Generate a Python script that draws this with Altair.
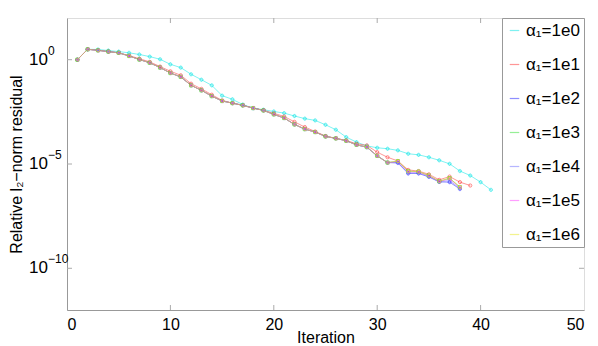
import altair as alt
import pandas as pd

series_names = ["α₁=1e0", "α₁=1e1", "α₁=1e2", "α₁=1e3", "α₁=1e4", "α₁=1e5", "α₁=1e6"]
series_colors = ["#00e5e5", "#ff3030", "#2020ff", "#30e030", "#7070ff", "#ff40ff", "#e8e820"]
series_shapes = ["cross", "circle", "cross", "square", "diamond", "triangle-left", "circle"]

res_1e0 = [1.0, 3.16, 3.09, 2.75, 2.45, 2.14, 1.78, 1.41, 1.05, 0.60,
           0.42, 0.20, 0.11, 0.059, 0.019, 0.0126, 7.1e-3, 4.8e-3, 4.0e-3, 3.3e-3,
           2.75e-3, 2.0e-3, 1.5e-3, 1.23e-3, 7.6e-4, 4.4e-4, 1.95e-4, 1.12e-4, 7.4e-5, 6.0e-5,
           5.4e-5, 4.5e-5, 3.1e-5, 2.75e-5, 2.1e-5, 1.5e-5, 1.02e-5, 4.6e-6, 2.8e-6, 1.35e-6, 5.75e-7]
res_1e1 = [1.0, 3.16, 2.82, 2.45, 2.14, 1.58, 1.12, 0.79, 0.47, 0.28,
           0.18, 0.071, 0.040, 0.021, 0.0112, 8.3e-3, 6.5e-3, 4.8e-3, 3.8e-3, 2.7e-3,
           1.9e-3, 1.05e-3, 5.9e-4, 3.6e-4, 2.2e-4, 1.7e-4, 1.35e-4, 9.3e-5, 7.8e-5, 3.7e-5,
           2.1e-5, 1.4e-5, 5.2e-6, 4.6e-6, 3.2e-6, 1.74e-6, 2.5e-6, 1.35e-6, 9.3e-7]
res_1e2 = [1.0, 3.16, 2.82, 2.45, 2.14, 1.51, 1.02, 0.71, 0.42, 0.23,
           0.15, 0.059, 0.034, 0.018, 0.0105, 8.3e-3, 6.5e-3, 4.8e-3, 3.7e-3, 2.4e-3,
           1.6e-3, 7.9e-4, 4.7e-4, 3.4e-4, 2.1e-4, 1.7e-4, 1.3e-4, 8.3e-5, 6.3e-5, 2.45e-5,
           1.17e-5, 1.12e-5, 3.5e-6, 3.5e-6, 2.4e-6, 1.38e-6, 1.35e-6, 6.3e-7]
res_1e3 = [1.0, 3.16, 2.82, 2.45, 2.14, 1.51, 1.02, 0.71, 0.42, 0.23,
           0.15, 0.059, 0.034, 0.018, 0.0105, 8.3e-3, 6.5e-3, 4.8e-3, 3.7e-3, 2.4e-3,
           1.6e-3, 7.9e-4, 4.7e-4, 3.4e-4, 2.1e-4, 1.7e-4, 1.3e-4, 8.3e-5, 6.5e-5, 2.45e-5,
           1.17e-5, 1.38e-5, 4.5e-6, 4.3e-6, 2.8e-6, 1.48e-6, 2.1e-6, 7.8e-7]
res_1e4 = [1.0, 3.16, 2.82, 2.45, 2.14, 1.51, 1.02, 0.71, 0.42, 0.23,
           0.15, 0.059, 0.034, 0.018, 0.0105, 8.3e-3, 6.5e-3, 4.8e-3, 3.7e-3, 2.4e-3,
           1.6e-3, 7.9e-4, 4.7e-4, 3.4e-4, 2.1e-4, 1.7e-4, 1.3e-4, 8.3e-5, 6.4e-5, 2.45e-5,
           1.17e-5, 1.2e-5, 3.8e-6, 3.8e-6, 2.5e-6, 1.4e-6, 1.6e-6, 6.8e-7]
res_1e5 = [1.0, 3.16, 2.82, 2.45, 2.14, 1.51, 1.02, 0.71, 0.42, 0.23,
           0.15, 0.059, 0.034, 0.018, 0.0105, 8.3e-3, 6.5e-3, 4.8e-3, 3.7e-3, 2.4e-3,
           1.6e-3, 7.9e-4, 4.7e-4, 3.4e-4, 2.1e-4, 1.7e-4, 1.3e-4, 8.3e-5, 6.5e-5, 2.45e-5,
           1.17e-5, 1.3e-5, 4.2e-6, 4.1e-6, 2.7e-6, 1.45e-6, 1.9e-6, 7.5e-7]
res_1e6 = [1.0, 3.16, 2.82, 2.45, 2.14, 1.51, 1.02, 0.71, 0.42, 0.23,
           0.15, 0.059, 0.034, 0.018, 0.0105, 8.3e-3, 6.5e-3, 4.8e-3, 3.7e-3, 2.4e-3,
           1.6e-3, 7.9e-4, 4.7e-4, 3.4e-4, 2.1e-4, 1.7e-4, 1.3e-4, 8.3e-5, 6.5e-5, 2.45e-5,
           1.17e-5, 1.38e-5, 4.5e-6, 4.3e-6, 2.8e-6, 1.48e-6, 2.1e-6, 7.8e-7]

x_ticks = [0, 10, 20, 30, 40, 50]
inner_x_ticks = [10, 20, 30, 40]
y_ticks = [1.0, 1e-5, 1e-10]
y_tick_base = ["10", "10", "10"]
y_tick_exp = ["0", "−5", "−10"]

all_series = [res_1e0, res_1e1, res_1e2, res_1e3, res_1e4, res_1e5, res_1e6]
rows = []
for name, vals in zip(series_names, all_series):
    for i, v in enumerate(vals):
        rows.append({"series": name, "iteration": i + 1, "residual": v})
df = pd.DataFrame(rows)

W, H = 517, 292
FONT = "Liberation Sans"

x_scale = alt.Scale(domain=[0, 50], nice=False)
y_scale = alt.Scale(type="log", domain=[1e-12, 1e2], nice=False)
color_scale = alt.Scale(domain=series_names, range=series_colors)

x_enc = alt.X("iteration:Q", scale=x_scale,
              axis=alt.Axis(values=x_ticks, title="Iteration", tickSize=0, labelPadding=6,
                            titlePadding=-3, labelFontSize=16, titleFontSize=16,
                            titleFontWeight="normal", labelColor="black", titleColor="black",
                            domainColor="#999999", grid=False, labelFont=FONT, titleFont=FONT))
y_enc = alt.Y("residual:Q", scale=y_scale,
              axis=alt.Axis(values=y_ticks, title="Relative l₂−norm residual", tickSize=0,
                            labels=False, titlePadding=42,
                            titleFontSize=16, titleFontWeight="normal",
                            titleColor="black", domainColor="#999999",
                            grid=False, titleFont=FONT))

lines = alt.Chart(df).mark_line(strokeWidth=1, opacity=0.5).encode(
    x=x_enc, y=y_enc,
    color=alt.Color("series:N", scale=color_scale, sort=series_names,
                    legend=alt.Legend(title=None, orient="top-right", offset=0,
                                      symbolType="stroke", symbolSize=90,
                                      symbolStrokeWidth=1.2, symbolOpacity=0.5,
                                      labelFontSize=17, labelFont=FONT, labelColor="black",
                                      labelOffset=3, rowPadding=16, padding=4,
                                      strokeColor="#999999", fillColor="white",
                                      cornerRadius=0, labelLimit=200)),
    detail="series:N",
)

point_layers = []
for name, shp in zip(series_names, series_shapes):
    point_layers.append(
        alt.Chart(df).transform_filter(alt.datum.series == name)
        .mark_point(size=10, strokeWidth=1, opacity=0.6, shape=shp)
        .encode(x="iteration:Q", y="residual:Q",
                color=alt.Color("series:N", scale=color_scale, legend=None))
    )

xt = pd.DataFrame({"t": inner_x_ticks})
yt = pd.DataFrame({"t": y_ticks, "base": y_tick_base, "exp": y_tick_exp})
tick_style = dict(color="#aaaaaa", strokeWidth=1)
xb = alt.Chart(xt).mark_rule(**tick_style).encode(
    x=alt.X("t:Q", scale=x_scale), y=alt.value(H), y2=alt.value(H - 5))
xtop = alt.Chart(xt).mark_rule(**tick_style).encode(
    x=alt.X("t:Q", scale=x_scale), y=alt.value(0), y2=alt.value(5))
yl = alt.Chart(yt).mark_rule(**tick_style).encode(
    y=alt.Y("t:Q", scale=y_scale), x=alt.value(0), x2=alt.value(5))
yr = alt.Chart(yt).mark_rule(**tick_style).encode(
    y=alt.Y("t:Q", scale=y_scale), x=alt.value(W - 5), x2=alt.value(W))

ybase = alt.Chart(yt).mark_text(align="right", baseline="middle", fontSize=17,
                                font=FONT, color="black").encode(
    y=alt.Y("t:Q", scale=y_scale), x=alt.value(-19), text="base:N")
yexp = alt.Chart(yt).mark_text(align="left", baseline="middle", fontSize=12, dy=-9,
                               font=FONT, color="black").encode(
    y=alt.Y("t:Q", scale=y_scale), x=alt.value(-19), text="exp:N")

chart = alt.layer(xb, xtop, yl, yr, ybase, yexp, lines, *point_layers).properties(
    width=W, height=H,
    autosize=alt.AutoSizeParams(type="none"),
    padding={"left": 59, "top": 10, "right": 6, "bottom": 38},
).configure_view(stroke="#999999", strokeWidth=1).configure(background="white")

chart.save("out.html", embed_options={"renderer": "svg", "actions": False})
